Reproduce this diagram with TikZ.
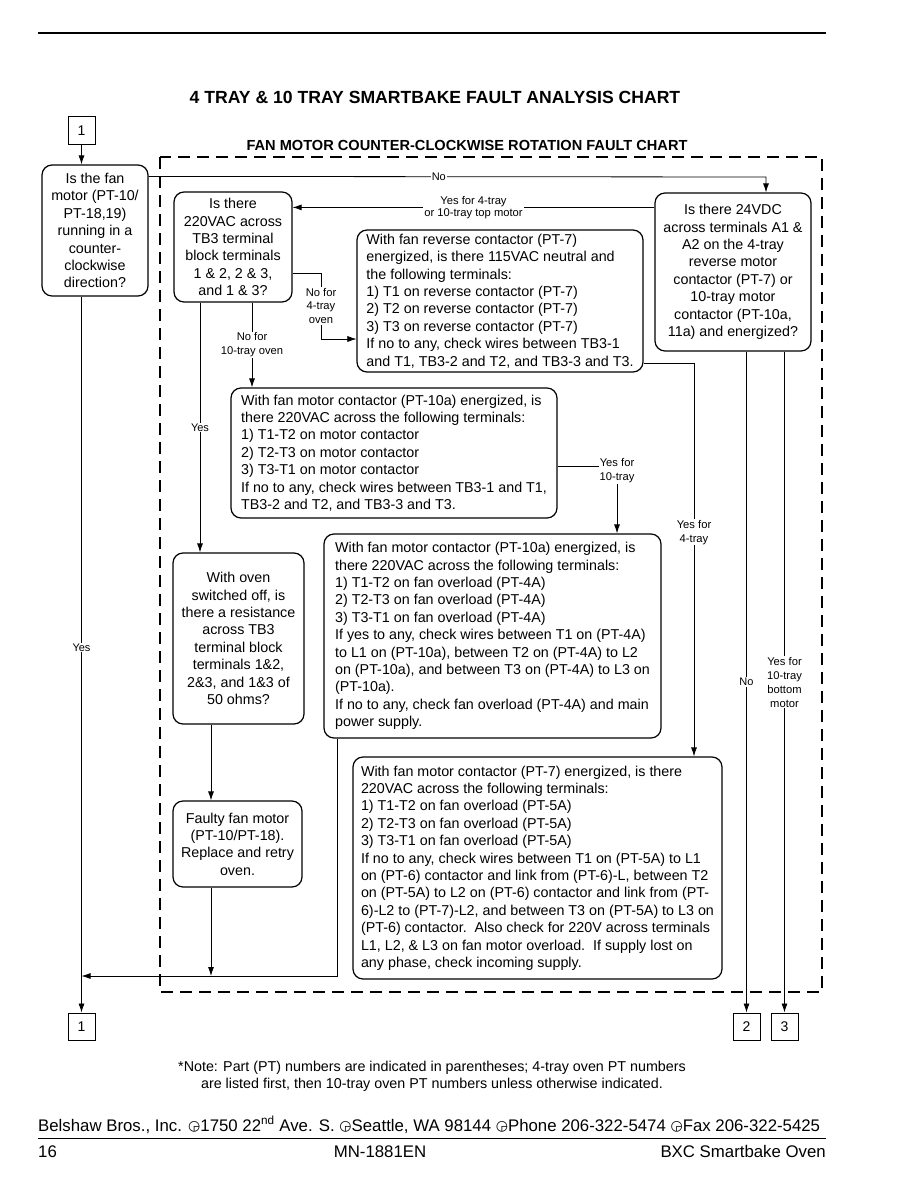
\documentclass[tikz,border=0pt]{standalone}
\usepackage{fontspec}
\setmainfont{Liberation Sans}
\newfontfamily\symfont{DejaVu Sans}
\usetikzlibrary{arrows.meta,calc}
\newcommand\fbody{\fontsize{14.3}{17.4}\selectfont}
\newcommand\flab{\fontsize{11.2}{14}\selectfont}
\newcommand\flabtight{\fontsize{11.2}{12.5}\selectfont}
\newcommand\fyes{\fontsize{11}{14}\selectfont}
\newcommand\ftitle{\fontsize{17.6}{20}\selectfont\bfseries}
\newcommand\fsub{\fontsize{14.6}{16}\selectfont\bfseries}
\newcommand\fnum{\fontsize{14}{16}\selectfont}
\newcommand\fnote{\fontsize{14.3}{17}\selectfont}
\newcommand\ffoot{\fontsize{16.8}{20}\selectfont}
\newcommand\clk{\raisebox{1pt}{\symfont\fontsize{14}{14}\selectfont ◶}}
\begin{document}
\begin{tikzpicture}[x=1pt,y=-1pt,
  box/.style={draw, rounded corners=10pt, line width=1.2pt, inner sep=3pt, font=\fbody, align=center},
  lbox/.style={box, align=left, inner sep=4pt},
  num/.style={draw, line width=1pt, minimum width=27pt, minimum height=27pt, inner sep=0pt, font=\fnum},
  lab/.style={font=\flab, align=center, fill=white, inner sep=1pt},
  conn/.style={line width=0.8pt},
  arr/.style={conn, -{Latex[length=9pt,width=6pt]}},
  frame/.style={line width=2.4pt, dash pattern=on 12pt off 7pt},
]
\useasboundingbox (0,0) rectangle (918,1188);

% header
\draw[line width=2pt] (38,33) -- (826,33);
\node[font=\ftitle] (title) at (435,97) {4 TRAY \& 10 TRAY SMARTBAKE FAULT ANALYSIS CHART};
\node[font=\fsub, anchor=base] (sub) at (467,150) {FAN MOTOR COUNTER-CLOCKWISE ROTATION FAULT CHART};

% dashed frame
\draw[frame] (160,157) rectangle (822,992);

% number boxes
\node[num] (n1top) at (81.5,130.5) {1};
\node[num] (n1bot) at (81.5,1026.5) {1};
\node[num] (n2) at (746.5,1026.5) {2};
\node[num] (n3) at (784.5,1026.5) {3};

% boxes
\node[box, minimum width=106pt, minimum height=131pt] (q1) at (95,230.5)
  {Is the fan\\motor (PT-10/\\PT-18,19)\\running in a\\counter-\\clockwise\\direction?};
\node[box, minimum width=118pt, minimum height=110pt] (q2) at (233,247)
  {Is there\\220VAC across\\TB3 terminal\\block terminals\\1 \& 2, 2 \& 3,\\and 1 \& 3?};
\node[box, minimum width=156pt, minimum height=158pt] (q3) at (733,272)
  {Is there 24VDC\\across terminals A1 \&\\A2 on the 4-tray\\reverse motor\\contactor (PT-7) or\\10-tray motor\\contactor (PT-10a,\\11a) and energized?};
\node[lbox, minimum width=286pt, minimum height=142pt] (b3) at (500,301)
  {With fan reverse contactor (PT-7)\\energized, is there 115VAC neutral and\\the following terminals:\\1) T1 on reverse contactor (PT-7)\\2) T2 on reverse contactor (PT-7)\\3) T3 on reverse contactor (PT-7)\\If no to any, check wires between TB3-1\\and T1, TB3-2 and T2, and TB3-3 and T3.};
\node[lbox, minimum width=326pt, minimum height=130pt] (b4) at (394,453)
  {With fan motor contactor (PT-10a) energized, is\\there 220VAC across the following terminals:\\1) T1-T2 on motor contactor\\2) T2-T3 on motor contactor\\3) T3-T1 on motor contactor\\If no to any, check wires between TB3-1 and T1,\\TB3-2 and T2, and TB3-3 and T3.};
\node[box, minimum width=131pt, minimum height=171pt] (q5) at (238.5,638.5)
  {With oven\\switched off, is\\there a resistance\\across TB3\\terminal block\\terminals 1\&2,\\2\&3, and 1\&3 of\\50 ohms?};
\node[lbox, minimum width=337pt, minimum height=204pt] (b6) at (492.5,636)
  {With fan motor contactor (PT-10a) energized, is\\there 220VAC across the following terminals:\\1) T1-T2 on fan overload (PT-4A)\\2) T2-T3 on fan overload (PT-4A)\\3) T3-T1 on fan overload (PT-4A)\\If yes to any, check wires between T1 on (PT-4A)\\to L1 on (PT-10a), between T2 on (PT-4A) to L2\\on (PT-10a), and between T3 on (PT-4A) to L3 on\\(PT-10a).\\If no to any, check fan overload (PT-4A) and main\\power supply.};
\node[box, minimum width=129pt, minimum height=86pt] (r7) at (237.5,844)
  {Faulty fan motor\\(PT-10/PT-18).\\Replace and retry\\oven.};
\node[lbox, minimum width=369pt, minimum height=222pt] (b8) at (537.5,868)
  {With fan motor contactor (PT-7) energized, is there\\220VAC across the following terminals:\\1) T1-T2 on fan overload (PT-5A)\\2) T2-T3 on fan overload (PT-5A)\\3) T3-T1 on fan overload (PT-5A)\\If no to any, check wires between T1 on (PT-5A) to L1\\on (PT-6) contactor and link from (PT-6)-L, between T2\\on (PT-5A) to L2 on (PT-6) contactor and link from (PT-\\6)-L2 to (PT-7)-L2, and between T3 on (PT-5A) to L3 on\\(PT-6) contactor.\ \ Also check for 220V across terminals\\L1, L2, \& L3 on fan motor overload.\ \ If supply lost on\\any phase, check incoming supply.};

% helper coordinates
\coordinate (noTurn) at (766,177);
\coordinate (k1) at (321,273);
\coordinate (k2) at (321,339);
\coordinate (k3) at (617,466);
\coordinate (k4) at (694,363);
\coordinate (x211) at (211,0);
\coordinate (ret) at (337,976);

% connectors
\draw[arr] (n1top.south) -- (n1top.south |- q1.north);
\draw[arr] (n1top.south |- q1.south) -- node[lab, font=\fyes, pos=0.49]{Yes} (n1bot.north);
\draw[arr] ([yshift=-12pt]q1.north east) -- node[lab, font=\fyes, pos=0.47]{No} (noTurn) -- (noTurn |- q3.north);
\draw[arr] ([yshift=-15pt]q3.north west) -- node[lab, font=\flabtight, pos=0.5]{Yes for 4-tray\\or 10-tray top motor} ([yshift=-15pt]q3.north west -| q2.east);
\draw[arr, line width=0.6pt] ([yshift=-26pt]q2.east) -- (k1) -- node[lab]{No for\\4-tray\\oven} (k2) -- (k2 -| b3.west);
\draw[arr] ([xshift=19pt]q2.south) -- node[lab]{No for\\10-tray oven} ([xshift=19pt]q2.south |- b4.north);
\draw[arr] ([xshift=-33pt]q2.south) -- node[lab, font=\fyes]{Yes} ([xshift=-33pt]q2.south |- q5.north);
\draw[arr] ([yshift=-13pt]b4.east) -- (k3) node[lab, yshift=-5pt]{Yes for\\10-tray} -- (k3 |- b6.north);
\draw[arr] ([yshift=-62pt]b3.east) -- (k4) -- node[lab, pos=0.43]{Yes for\\4-tray} (k4 |- b8.north);
\draw[arr] (q3.south -| n2.north) -- node[lab, font=\fyes, pos=0.5]{No} (n2.north);
\draw[arr] (q3.south -| n3.north) -- node[lab, pos=0.5]{Yes for\\10-tray\\bottom\\motor} (n3.north);
\draw[arr] (q5.south -| x211) -- (r7.north -| x211);
\draw[arr] (r7.south -| x211) -- (x211 |- ret);
\draw[arr] (b6.south -| ret) -- (ret) -- (n1bot.north |- ret);

% note
\node[font=\fnote, align=center] (note) at (432,1076)
  {*Note: Part (PT) numbers are indicated in parentheses; 4-tray oven PT numbers\\are listed first, then 10-tray oven PT numbers unless otherwise indicated.};

% footer
\node[font=\ffoot, anchor=base west, inner sep=0pt] (addr) at (38,1131)
  {Belshaw Bros., Inc. \clk1750 22\textsuperscript{nd} Ave. S. \clk Seattle, WA 98144 \clk Phone 206-322-5474 \clk Fax 206-322-5425};
\draw[line width=1pt] (38,1138) -- (826,1138);
\node[font=\ffoot, anchor=base west, inner sep=0pt] (page) at (38,1157) {16};
\node[font=\ffoot, anchor=base, inner sep=0pt] (doc) at (380,1157) {MN-1881EN};
\node[font=\ffoot, anchor=base east, inner sep=0pt] (prod) at (826,1157) {BXC Smartbake Oven};
\end{tikzpicture}
\end{document}
